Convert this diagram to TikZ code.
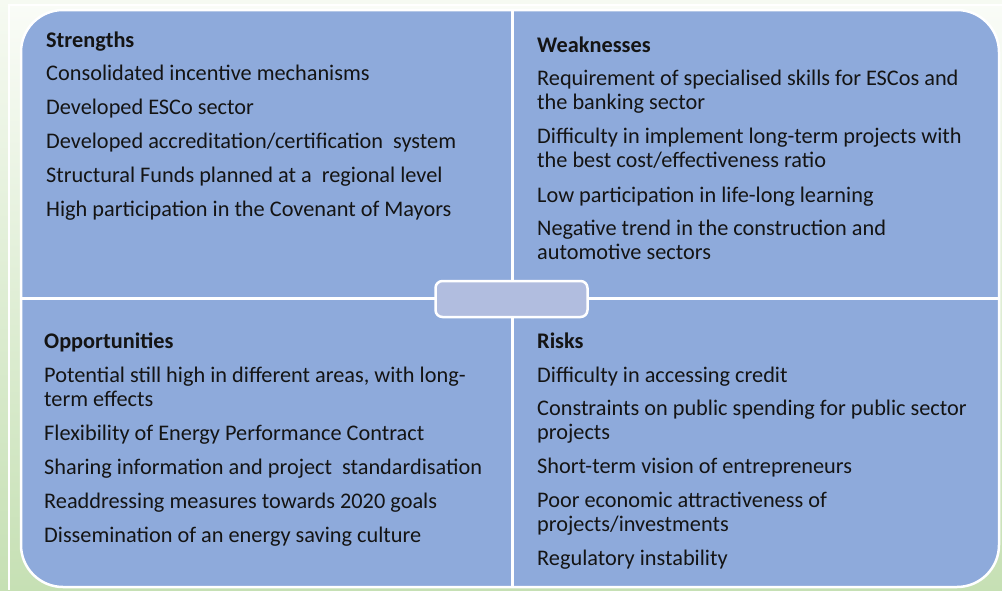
\documentclass[tikz,border=0pt]{standalone}
\usepackage{fontspec}
\setmainfont{Carlito}
\definecolor{quadblue}{HTML}{8EAADB}
\definecolor{centerblue}{HTML}{B1BDDF}
\definecolor{bgtop}{HTML}{F6FAF2}
\definecolor{bgbot}{HTML}{C6E0B4}
\definecolor{txt}{HTML}{141414}
\tikzset{
  item/.style={anchor=base west, inner sep=0pt, align=left, text=txt,
    font=\fontsize{22.3}{24}\selectfont},
  head/.style={item, font=\fontsize{22.3}{24}\selectfont\bfseries},
  divider/.style={draw=white, line width=3pt},
}
\begin{document}
\begin{tikzpicture}[x=1pt,y=-1pt]
\useasboundingbox (0,0) rectangle (1002,590);
\shade[top color=bgtop, bottom color=bgbot] (0,0) rectangle (1002,590);
\fill[white] (8,4) rectangle (1002,590);
\shade[top color=bgtop!60!white, bottom color=bgbot] (10,6) rectangle (1002,590);
% outer panel
\draw[fill=quadblue, draw=white, line width=2.5pt, rounded corners=42pt]
  (21,10) rectangle (999,587);
% dividers
\coordinate (vt) at (512,10);
\coordinate (vb) at (512,587);
\coordinate (hl) at (21,298);
\coordinate (hr) at (999,298);
\draw[divider] (vt) -- (vb);
\draw[divider] (hl) -- (hr);
% center box
\node[draw=white, line width=2.5pt, fill=centerblue, rounded corners=7pt,
  minimum width=152pt, minimum height=36pt, inner sep=0pt] (center) at (511.5,299) {};
% Strengths
\node[head] (sH) at (46,47) {Strengths};
\node[item] (s1) at (46,80) {Consolidated incentive mechanisms};
\node[item] (s2) at (46,114) {Developed ESCo sector};
\node[item] (s3) at (46,148) {Developed accreditation/certification\ \ system};
\node[item] (s4) at (46,182) {Structural Funds planned at a\ \ regional level};
\node[item] (s5) at (46,216) {High participation in the Covenant of Mayors};
% Weaknesses (multi-line nodes: base = last line)
\node[head] (wH) at (537,52) {Weaknesses};
\node[item] (w1) at (537,109) {Requirement of specialised skills for ESCos and\\the banking sector};
\node[item] (w2) at (537,167) {Difficulty in implement long-term projects with\\the best cost/effectiveness ratio};
\node[item] (w3) at (537,202) {Low participation in life-long learning};
\node[item] (w4) at (537,259) {Negative trend in the construction and\\automotive sectors};
% Opportunities
\node[head] (oH) at (44,348) {Opportunities};
\node[item] (o1) at (44,406) {Potential still high in different areas, with long-\\term effects};
\node[item] (o2) at (44,440) {Flexibility of Energy Performance Contract};
\node[item] (o3) at (44,474) {Sharing information and project\ \ standardisation};
\node[item] (o4) at (44,508) {Readdressing measures towards 2020 goals};
\node[item] (o5) at (44,542) {Dissemination of an energy saving culture};
% Risks
\node[head] (rH) at (537,348) {Risks};
\node[item] (r1) at (537,382) {Difficulty in accessing credit};
\node[item] (r2) at (537,439) {Constraints on public spending for public sector\\projects};
\node[item] (r3) at (537,473) {Short-term vision of entrepreneurs};
\node[item] (r4) at (537,531) {Poor economic attractiveness of\\projects/investments};
\node[item] (r5) at (537,565) {Regulatory instability};
\end{tikzpicture}
\end{document}
